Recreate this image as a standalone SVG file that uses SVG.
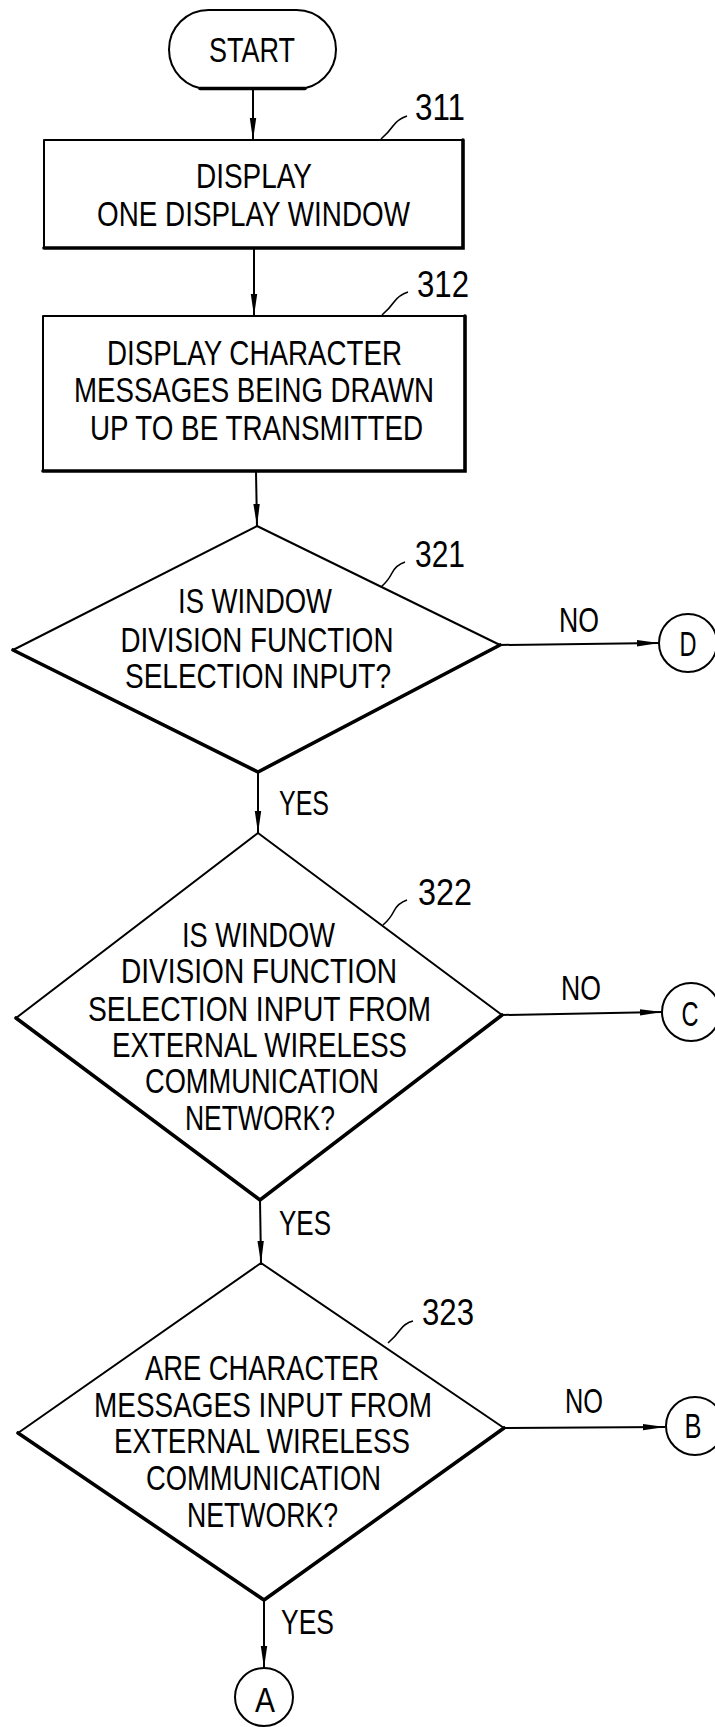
<svg xmlns="http://www.w3.org/2000/svg" width="715" height="1727" viewBox="0 0 715 1727">
  <style>
    .bg { fill: #ffffff; }
    .thick { fill: none; stroke: #000; stroke-width: 3.6; stroke-linecap: round; }
    .shape { fill: #fff; stroke: #000; stroke-width: 2; stroke-linejoin: round; }
    .wire { fill: none; stroke: #000; stroke-width: 2; }
    .lead { fill: none; stroke: #000; stroke-width: 1.6; }
    text { font-family: "Liberation Sans Narrow", "Liberation Sans", Arial, sans-serif; font-size: 34.5px; fill: #000; }
    .c { text-anchor: middle; }
    .ref { font-size: 36px; }
  </style>
  <defs>
    <marker id="arrow" markerUnits="userSpaceOnUse" markerWidth="22" markerHeight="8" refX="22" refY="4" orient="auto">
      <path d="M0,0.8 L22,4 L0,7.2 z" fill="#000"/>
    </marker>
  </defs>

  <rect class="bg" x="0" y="0" width="715" height="1727"/>

  <!-- connectors -->
  <g id="connectors">
    <line class="wire" x1="253" y1="89" x2="253" y2="140" marker-end="url(#arrow)"/>
    <line class="wire" x1="254" y1="249" x2="254" y2="316" marker-end="url(#arrow)"/>
    <line class="wire" x1="256" y1="472" x2="257" y2="526" marker-end="url(#arrow)"/>
    <line class="wire" x1="258" y1="772" x2="258" y2="833" marker-end="url(#arrow)"/>
    <line class="wire" x1="260" y1="1200" x2="261" y2="1263" marker-end="url(#arrow)"/>
    <line class="wire" x1="264" y1="1600" x2="264" y2="1668" marker-end="url(#arrow)"/>
    <line class="wire" x1="500" y1="645" x2="659" y2="643" marker-end="url(#arrow)"/>
    <line class="wire" x1="502" y1="1015" x2="662" y2="1012" marker-end="url(#arrow)"/>
    <line class="wire" x1="504" y1="1428" x2="665" y2="1427" marker-end="url(#arrow)"/>
    <text x="279" y="815" textLength="50" lengthAdjust="spacingAndGlyphs">YES</text>
    <text x="279" y="1235" textLength="52" lengthAdjust="spacingAndGlyphs">YES</text>
    <text x="281" y="1634" textLength="53" lengthAdjust="spacingAndGlyphs">YES</text>
    <text x="559" y="632" textLength="40" lengthAdjust="spacingAndGlyphs">NO</text>
    <text x="561" y="1000" textLength="40" lengthAdjust="spacingAndGlyphs">NO</text>
    <text x="565" y="1413" textLength="38" lengthAdjust="spacingAndGlyphs">NO</text>
  </g>

  <!-- start terminator -->
  <g id="start">
    <rect class="shape" x="169" y="10" width="167" height="79" rx="39.5" ry="39.5"/>
    <path class="thick" d="M200,88.5 L305,88.5"/>
    <text class="c" x="252" y="62" textLength="86" lengthAdjust="spacingAndGlyphs">START</text>
  </g>

  <!-- step 311 -->
  <g id="step311">
    <rect class="shape" x="44" y="140" width="419" height="108"/>
    <path class="thick" d="M463,140 L463,248 L44,248"/>
    <text class="c" x="254" y="188" textLength="116" lengthAdjust="spacingAndGlyphs">DISPLAY</text>
    <text class="c" x="253.5" y="226" textLength="313" lengthAdjust="spacingAndGlyphs">ONE DISPLAY WINDOW</text>
    <path class="lead" d="M381,139 q7,-6 12,-13 t14,-10"/>
    <text class="ref" x="415" y="120" textLength="50" lengthAdjust="spacingAndGlyphs">311</text>
  </g>

  <!-- step 312 -->
  <g id="step312">
    <rect class="shape" x="43" y="316" width="422" height="155"/>
    <path class="thick" d="M465,316 L465,471 L43,471"/>
    <text class="c" x="254.5" y="365" textLength="295" lengthAdjust="spacingAndGlyphs">DISPLAY CHARACTER</text>
    <text class="c" x="254" y="402" textLength="360" lengthAdjust="spacingAndGlyphs">MESSAGES BEING DRAWN</text>
    <text class="c" x="256.5" y="440" textLength="333" lengthAdjust="spacingAndGlyphs">UP TO BE TRANSMITTED</text>
    <path class="lead" d="M382,315 q7,-6 12,-13 t14,-10"/>
    <text class="ref" x="417" y="297" textLength="52" lengthAdjust="spacingAndGlyphs">312</text>
  </g>

  <!-- decision 321 -->
  <g id="decision321">
    <polygon class="shape" points="257,526 500,645 258,772 13,650"/>
    <path class="thick" d="M500,645 L258,772 L13,650"/>
    <text class="c" x="255" y="613" textLength="154" lengthAdjust="spacingAndGlyphs">IS WINDOW</text>
    <text class="c" x="257" y="651.5" textLength="273" lengthAdjust="spacingAndGlyphs">DIVISION FUNCTION</text>
    <text class="c" x="258" y="688" textLength="266" lengthAdjust="spacingAndGlyphs">SELECTION INPUT?</text>
    <path class="lead" d="M381,587 q7,-6 11,-14 t13,-11"/>
    <text class="ref" x="415" y="567" textLength="50" lengthAdjust="spacingAndGlyphs">321</text>
  </g>

  <!-- decision 322 -->
  <g id="decision322">
    <polygon class="shape" points="258,833 502,1015 260,1200 16,1018"/>
    <path class="thick" d="M502,1015 L260,1200 L16,1018"/>
    <text class="c" x="258.5" y="947" textLength="153" lengthAdjust="spacingAndGlyphs">IS WINDOW</text>
    <text class="c" x="259" y="983" textLength="276" lengthAdjust="spacingAndGlyphs">DIVISION FUNCTION</text>
    <text class="c" x="259.5" y="1021" textLength="343" lengthAdjust="spacingAndGlyphs">SELECTION INPUT FROM</text>
    <text class="c" x="259.5" y="1057" textLength="295" lengthAdjust="spacingAndGlyphs">EXTERNAL WIRELESS</text>
    <text class="c" x="262" y="1093" textLength="234" lengthAdjust="spacingAndGlyphs">COMMUNICATION</text>
    <text class="c" x="260" y="1130" textLength="150" lengthAdjust="spacingAndGlyphs">NETWORK?</text>
    <path class="lead" d="M383,925 q7,-6 11,-14 t13,-11"/>
    <text class="ref" x="418" y="905" textLength="54" lengthAdjust="spacingAndGlyphs">322</text>
  </g>

  <!-- decision 323 -->
  <g id="decision323">
    <polygon class="shape" points="261,1263 504,1428 264,1600 18,1433"/>
    <path class="thick" d="M504,1428 L264,1600 L18,1433"/>
    <text class="c" x="262" y="1380" textLength="234" lengthAdjust="spacingAndGlyphs">ARE CHARACTER</text>
    <text class="c" x="263" y="1417" textLength="338" lengthAdjust="spacingAndGlyphs">MESSAGES INPUT FROM</text>
    <text class="c" x="262" y="1453" textLength="296" lengthAdjust="spacingAndGlyphs">EXTERNAL WIRELESS</text>
    <text class="c" x="263.5" y="1490" textLength="235" lengthAdjust="spacingAndGlyphs">COMMUNICATION</text>
    <text class="c" x="262.5" y="1527" textLength="151" lengthAdjust="spacingAndGlyphs">NETWORK?</text>
    <path class="lead" d="M388,1343 q7,-6 12,-13 t13,-9"/>
    <text class="ref" x="422" y="1325" textLength="52" lengthAdjust="spacingAndGlyphs">323</text>
  </g>

  <!-- off-page connectors -->
  <g id="connD">
    <circle class="shape" cx="688" cy="643" r="29"/>
    <text class="c" x="688" y="656" textLength="17" lengthAdjust="spacingAndGlyphs">D</text>
  </g>
  <g id="connC">
    <circle class="shape" cx="691" cy="1012" r="29"/>
    <text class="c" x="690" y="1026" textLength="17" lengthAdjust="spacingAndGlyphs">C</text>
  </g>
  <g id="connB">
    <circle class="shape" cx="695" cy="1426" r="29"/>
    <text class="c" x="693" y="1438" textLength="17" lengthAdjust="spacingAndGlyphs">B</text>
  </g>
  <g id="connA">
    <circle class="shape" cx="264" cy="1697" r="29"/>
    <text class="c" x="265" y="1712" textLength="20" lengthAdjust="spacingAndGlyphs">A</text>
  </g>
</svg>
